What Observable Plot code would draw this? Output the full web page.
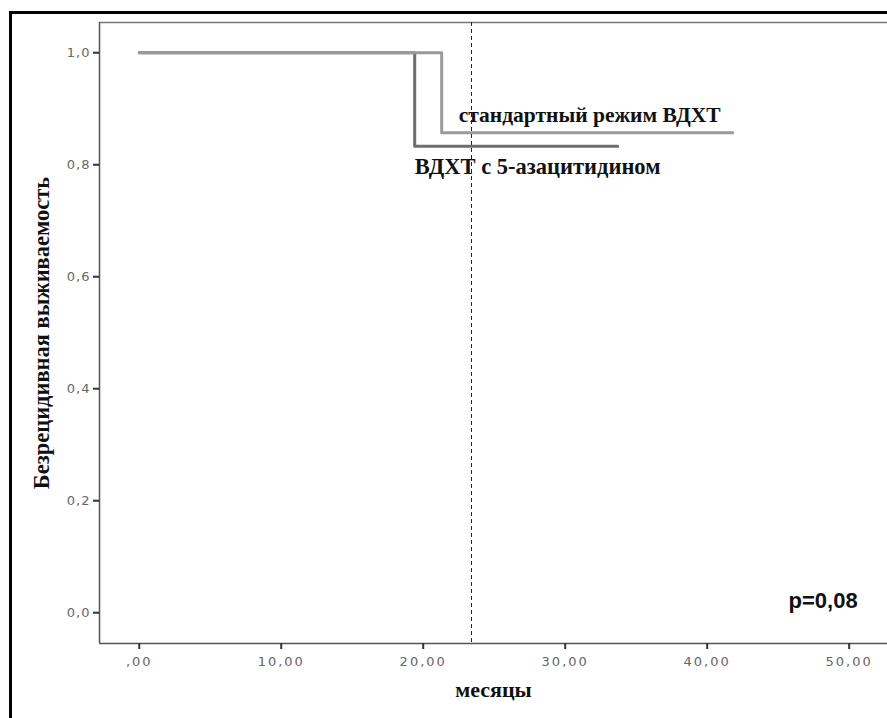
<!DOCTYPE html>
<html>
<head>
<meta charset="utf-8">
<script src="https://cdn.jsdelivr.net/npm/d3@7"></script>
<script src="https://cdn.jsdelivr.net/npm/@observablehq/plot@0.6"></script>
<style>
  html, body { margin: 0; padding: 0; background: #fff; }
  #wrap { position: relative; width: 887px; height: 718px; overflow: hidden; }
  #border { position: absolute; left: 9px; top: 11px; right: -10px; bottom: -10px;
            border-top: 3px solid #000; border-left: 3px solid #000; pointer-events: none; }
  #wrap svg g[aria-label="x-axis tick label"] text { letter-spacing: 2px; }
  #wrap svg g[aria-label="y-axis tick label"] text { letter-spacing: 1px; }
</style>
</head>
<body>
<div id="wrap"><div id="border"></div></div>
<script>
// Kaplan–Meier step curves (months, survival)
const stdTimes = [0, 21.3, 41.8];
const stdSurv  = [1.0, 0.857, 0.857];
const azaTimes = [0, 19.4, 33.7];
const azaSurv  = [1.0, 0.833, 0.833];

const medianLine = [23.4];

const xTicks = [0, 10, 20, 30, 40, 50];
const yTicks = [0, 0.2, 0.4, 0.6, 0.8, 1.0];

const labelStd = "стандартный режим ВДХТ";
const labelAza = "ВДХТ с 5-азацитидином";
const labelStdPos = [22.5, 0.877];
const labelAzaPos = [19.4, 0.784];
const pText = "p=0,08";
const pPos = [50.6, 0.008];
const xTitle = "месяцы";
const yTitle = "Безрецидивная выживаемость";

const xDomain = [-2.8, 52.7];
const yDomain = [-0.055, 1.054];

const stdData = stdTimes.map((t, i) => ({t, s: stdSurv[i]}));
const azaData = azaTimes.map((t, i) => ({t, s: azaSurv[i]}));

const chart = Plot.plot({
  width: 887,
  height: 718,
  marginLeft: 99,
  marginTop: 22,
  marginBottom: 75,
  marginRight: 0,
  style: {background: "#fff", fontFamily: "DejaVu Sans", fontSize: "13px", color: "#555"},
  x: {domain: xDomain},
  y: {domain: yDomain},
  marks: [
    Plot.ruleY([yDomain[1]], {stroke: "#777", strokeWidth: 1.5}),
    Plot.ruleY([yDomain[0]], {stroke: "#555", strokeWidth: 1.5}),
    Plot.ruleX([xDomain[0]], {stroke: "#555", strokeWidth: 1.5}),
    Plot.axisY(yTicks, {tickSize: 6, tickPadding: 3, stroke: "#333", strokeWidth: 2, fill: "#666", fontSize: 13,
      tickFormat: d => d.toFixed(1).replace(".", ","), label: null}),
    Plot.axisX(xTicks, {tickSize: 6, tickPadding: 7, stroke: "#333", strokeWidth: 2, fill: "#666", fontSize: 13,
      tickFormat: d => d === 0 ? ",00" : d.toFixed(2).replace(".", ","), label: null}),
    Plot.ruleX(medianLine, {stroke: "#222", strokeWidth: 1, strokeDasharray: "4,3"}),
    Plot.line(azaData, {x: "t", y: "s", curve: "step-after", stroke: "#6e6e6e", strokeWidth: 3}),
    Plot.line(stdData, {x: "t", y: "s", curve: "step-after", stroke: "#9a9a9a", strokeWidth: 3}),
    Plot.text([labelStd], {x: labelStdPos[0], y: labelStdPos[1], text: d => d, textAnchor: "start",
      lineAnchor: "bottom", fontFamily: "Liberation Serif", fontWeight: "bold", fontSize: 21.5, fill: "#111"}),
    Plot.text([labelAza], {x: labelAzaPos[0], y: labelAzaPos[1], text: d => d, textAnchor: "start",
      lineAnchor: "bottom", fontFamily: "Liberation Serif", fontWeight: "bold", fontSize: 22.5, fill: "#111"}),
    Plot.text([pText], {x: pPos[0], y: pPos[1], text: d => d, textAnchor: "end", lineAnchor: "bottom",
      fontFamily: "Liberation Sans", fontWeight: "bold", fontSize: 22, fill: "#111"}),
    Plot.text([xTitle], {frameAnchor: "bottom", dy: 53, text: d => d, textAnchor: "middle", fontFamily: "Liberation Serif",
      fontWeight: "bold", fontSize: 22, fill: "#111"}),
    Plot.text([yTitle], {frameAnchor: "left", dx: -58, rotate: -90, textAnchor: "middle", text: d => d,
      fontFamily: "Liberation Serif", fontWeight: "bold", fontSize: 22.5, fill: "#111"})
  ]
});
document.getElementById("wrap").insertBefore(chart, document.getElementById("border"));
</script>
</body>
</html>
